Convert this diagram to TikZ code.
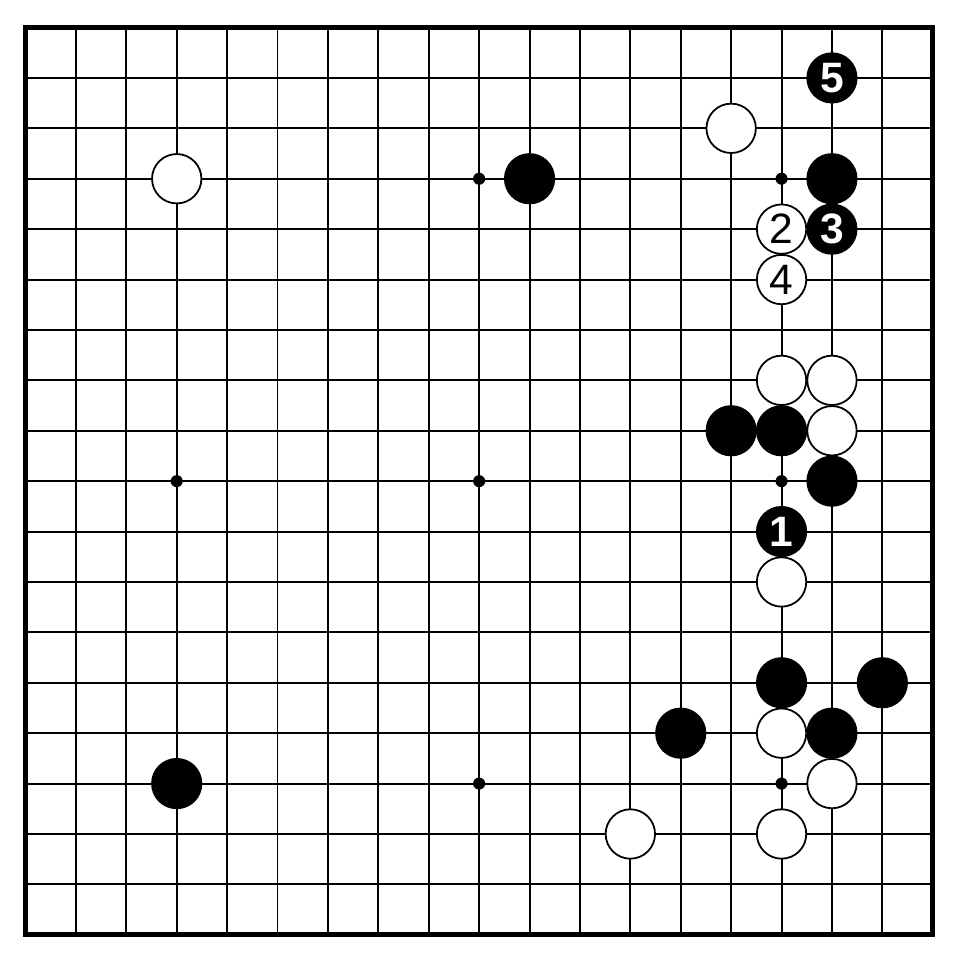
\documentclass[tikz,border=0pt]{standalone}
\usepackage{fontspec}
\setmainfont{Liberation Sans}
\usetikzlibrary{calc}
\definecolor{board}{RGB}{255,255,255}
\definecolor{ink}{RGB}{0,0,0}

\begin{document}
\begin{tikzpicture}[x=1cm, y=-1cm, ink, line width=1.1pt,
    stone/.style={circle, draw=ink, line width=1pt, minimum size=0.98cm, inner sep=0pt,
      font=\fontsize{24}{24}\selectfont},
    black stone/.style={stone, fill=ink, text=white, font=\fontsize{24}{24}\selectfont\bfseries},
    white stone/.style={stone, fill=board, text=ink},
    hoshi/.style={circle, fill=ink, minimum size=0.24cm, inner sep=0pt}]

	\useasboundingbox[fill=board] (-0.506,-0.546) rectangle (18.54,18.54);

	% grid
	\foreach \i in {1,...,17} {
		\draw (\i,0) -- (\i,18);
		\draw (0,\i) -- (18,\i);
	}
	\draw[line width=2.8pt] (0,0) rectangle (18,18);

	% star points
	\foreach \c/\r in {9/3,15/3,3/9,9/9,15/9,9/15,15/15}
		\node[hoshi] (hoshi-\c-\r) at (\c,\r) {};

	% stones
	\foreach \c/\r in {10/3,16/3,14/8,15/8,16/9,15/13,17/13,13/14,16/14,3/15}
		\node[black stone] (b-\c-\r) at (\c,\r) {};
	\foreach \c/\r in {14/2,3/3,15/7,16/7,16/8,15/11,15/14,16/15,12/16,15/16}
		\node[white stone] (w-\c-\r) at (\c,\r) {};

	% numbered moves
	\node[black stone] (move-1) at (15,10) {1};
	\node[white stone] (move-2) at (15,4) {2};
	\node[black stone] (move-3) at (16,4) {3};
	\node[white stone] (move-4) at (15,5) {4};
	\node[black stone] (move-5) at (16,1) {5};

\end{tikzpicture}
\end{document}
